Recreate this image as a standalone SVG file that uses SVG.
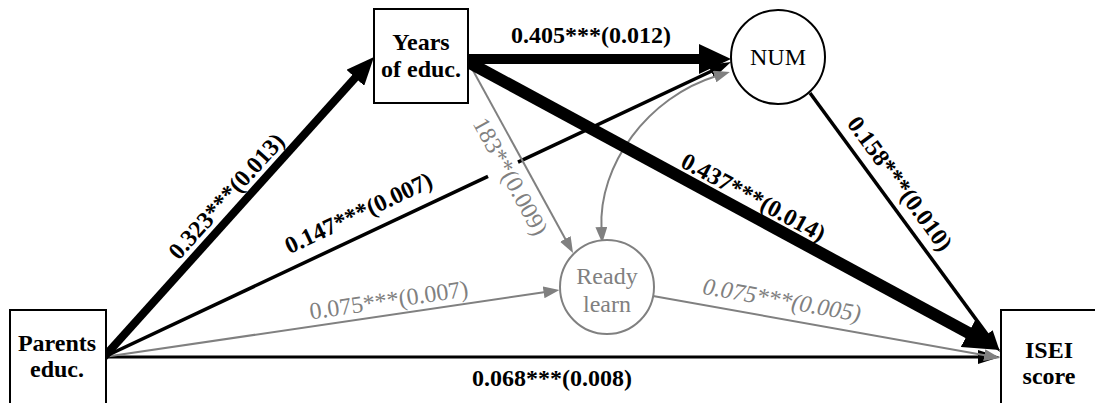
<svg xmlns="http://www.w3.org/2000/svg" width="1095" height="403" viewBox="0 0 1095 403">
<style>
text{font-family:"Liberation Serif","Times New Roman",serif;font-size:24px;fill:#000}
.b{font-weight:bold}
.g{fill:#808080}
.i{font-style:italic}
.box{fill:#fff;stroke:#000;stroke-width:2}
.ring{fill:#fff;stroke:#000;stroke-width:2}
.ringg{fill:#fff;stroke:#808080;stroke-width:2}
.k{fill:none;stroke:#000}
.gl{fill:none;stroke:#808080;stroke-width:2}
</style>
<defs>
<marker id="a8" markerUnits="userSpaceOnUse" viewBox="0 0 28 24" refX="2" refY="12" markerWidth="28" markerHeight="24" orient="auto"><path d="M0,0L28,12L0,24z" fill="#000"/></marker>
<marker id="a10" markerUnits="userSpaceOnUse" viewBox="0 0 32 30" refX="2" refY="15" markerWidth="32" markerHeight="30" orient="auto"><path d="M0,0L32,15L0,30z" fill="#000"/></marker>
<marker id="a12" markerUnits="userSpaceOnUse" viewBox="0 0 36 32" refX="2" refY="16" markerWidth="36" markerHeight="32" orient="auto"><path d="M0,0L36,16L0,32z" fill="#000"/></marker>
<marker id="ak" markerUnits="userSpaceOnUse" viewBox="0 0 22 14" refX="2" refY="7" markerWidth="22" markerHeight="14" orient="auto"><path d="M0,0L22,7L0,14z" fill="#000"/></marker>
<marker id="ag" markerUnits="userSpaceOnUse" viewBox="0 0 16 12" refX="2" refY="6" markerWidth="16" markerHeight="12" orient="auto-start-reverse"><path d="M0,0L16,6L0,12z" fill="#808080"/></marker>
</defs>
<g id="connectors">
<path class="k" stroke-width="3" d="M104,357H980" marker-end="url(#ak)"/>
<path class="gl" d="M104,357L545.6,292" marker-end="url(#ag)"/>
<path class="k" stroke-width="3.5" d="M104,357L488,176.3"/>
<path class="k" stroke-width="3.5" d="M518,162.2L712.9,70.5" marker-end="url(#ak)"/>
<path class="k" stroke-width="8" d="M104,357L356.6,76.3" marker-end="url(#a8)"/>
<path class="k" stroke-width="10" d="M468,59H701" marker-end="url(#a10)"/>
<path class="gl" d="M470,65L566.3,240.7" marker-end="url(#ag)"/>
<path class="gl" d="M601.5,229C598,165 648,97 716.5,76" marker-start="url(#ag)" marker-end="url(#ag)"/>
<path class="k" stroke-width="12" d="M468,62L970.1,333.8" marker-end="url(#a12)"/>
<path class="k" stroke-width="3.5" d="M810,93L988.2,335.9" marker-end="url(#ak)"/>
<path class="gl" d="M653,296L986.2,355.5" marker-end="url(#ag)"/>
<text class="b" text-anchor="middle" transform="translate(232.3,201.5) rotate(-48)">0.323***(0.013)</text>
<text class="b" text-anchor="middle" transform="translate(361.9,220.2) rotate(-25.2)">0.147***(0.007)</text>
<text class="g" text-anchor="middle" transform="translate(389.9,307.9) rotate(-8.4)">0.075***(0.007)</text>
<text class="b" text-anchor="middle" x="591" y="43">0.405***(0.012)</text>
<text class="g" text-anchor="middle" transform="translate(503.5,180.2) rotate(61.3)">183**(0.009)</text>
<text class="b" text-anchor="middle" transform="translate(749.6,204.3) rotate(28.4)">0.437***(0.014)</text>
<text class="b" text-anchor="middle" transform="translate(893.5,188.3) rotate(53.7)">0.158***(0.010)</text>
<text class="g i" text-anchor="middle" transform="translate(780.6,307.7) rotate(10.1)">0.075***(0.005)</text>
<text class="b" text-anchor="middle" x="552" y="386">0.068***(0.008)</text>
</g>
<g id="parents">
<rect class="box" x="10" y="310" width="96" height="100"/>
<text class="b" text-anchor="middle" x="57" y="351">Parents</text>
<text class="b" text-anchor="middle" x="57" y="377">educ.</text>
</g>
<g id="years">
<rect class="box" x="374" y="9" width="94" height="94"/>
<text class="b" text-anchor="middle" x="421" y="50">Years</text>
<text class="b" text-anchor="middle" x="421" y="77">of educ.</text>
</g>
<g id="num">
<circle class="ring" cx="778" cy="57" r="47"/>
<text text-anchor="middle" x="778" y="65">NUM</text>
</g>
<g id="ready">
<circle class="ringg" cx="607" cy="287" r="47"/>
<text class="g" text-anchor="middle" x="607" y="284">Ready</text>
<text class="g" text-anchor="middle" x="607" y="312">learn</text>
</g>
<g id="isei">
<rect class="box" x="1001" y="310" width="100" height="100"/>
<text class="b" text-anchor="middle" x="1049" y="358">ISEI</text>
<text class="b" text-anchor="middle" x="1049" y="384">score</text>
</g>
</svg>
